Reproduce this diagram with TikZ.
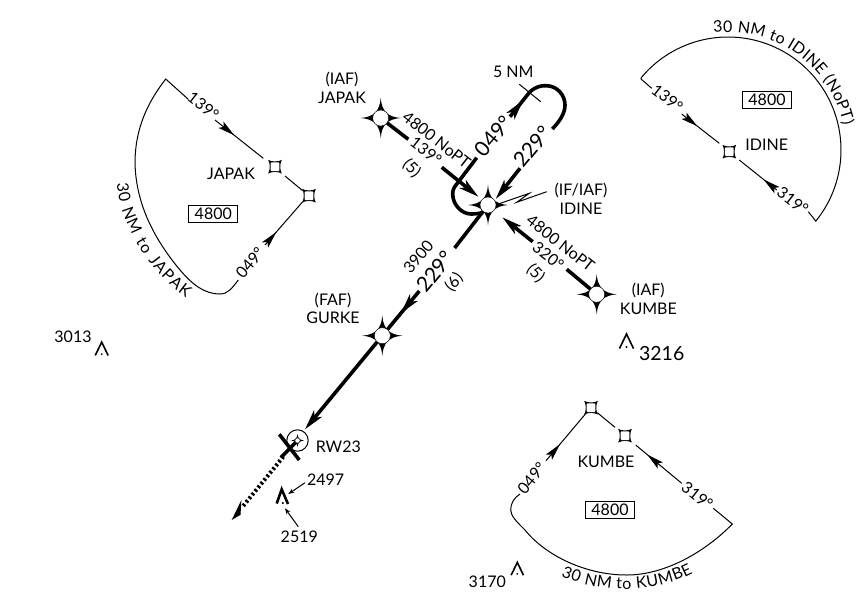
\documentclass[tikz,border=0pt]{standalone}
\usepackage{fontspec}
\setmainfont{Lato}
\usetikzlibrary{arrows.meta,calc,decorations.markings,decorations.text}
\newcommand\fsm{\fontsize{16}{18.5}\selectfont}
\newcommand\flg{\fontsize{21}{22}\selectfont}
\newcommand\fmd{\fontsize{19.5}{22}\selectfont}
\tikzset{
  thin line/.style={line width=1pt},
  thick leg/.style={line width=3.6pt},
  lab/.style={font=\fsm,inner sep=0pt,align=center},
  biglab/.style={font=\flg,inner sep=0pt},
  alt box/.style={font=\fsm,draw,line width=0.8pt,minimum width=49pt,minimum height=16.7pt,inner sep=0pt},
  thinhead/.style={postaction={decorate,decoration={markings,mark=at position #1 with {\arrow{Stealth[length=17pt,width=8pt,inset=3.5pt]}}}}},
  thickhead/.style={postaction={decorate,decoration={markings,mark=at position #1 with {\arrow{Stealth[length=20pt,width=10pt,inset=5pt]}}}}},
  bigfix/.pic={
    \fill (20,0) .. controls (7,1) and (1,7) .. (0,20) .. controls (-1,7) and (-7,1) .. (-20,0)
      .. controls (-7,-1) and (-1,-7) .. (0,-20) .. controls (1,-7) and (7,-1) .. (20,0) -- cycle;
    \fill[white] (0,0) circle (8);
    \draw[line width=0.4pt] (0,0) circle (8);
  },
  smallfix/.pic={
    \fill (-6.8,-6.8) .. controls (-3,-4.7) and (3,-4.7) .. (6.8,-6.8)
      .. controls (4.7,-3) and (4.7,3) .. (6.8,6.8)
      .. controls (3,4.7) and (-3,4.7) .. (-6.8,6.8)
      .. controls (-4.7,3) and (-4.7,-3) .. (-6.8,-6.8) -- cycle;
    \fill[white,rounded corners=1pt] (-4.4,-4.4) rectangle (4.4,4.4);
  },
  obstacle/.pic={
    \draw[line width=1.6pt,line join=miter] (-7,7) -- (0,-7.5) -- (7,7);
    \fill (0,5.5) circle (1.1);
  }
}
\begin{document}
\begin{tikzpicture}[x=1pt,y=-1pt,line cap=butt]
\useasboundingbox (0,0) rectangle (858,603);
% fixes
\coordinate (idine) at (488,205);
\coordinate (japak) at (380.7,118);
\coordinate (kumbe) at (596.7,294.3);
\coordinate (gurke) at (382.3,335.7);
\coordinate (rw) at (297.5,440.5);
% segment ends
\coordinate (j1) at (408.3,139.3);
\coordinate (j2) at (441.7,167.3);
\coordinate (j3) at (478.5,196.8);
\coordinate (o1) at (457.3,183.3);
\coordinate (o2) at (476.7,157.7);
\coordinate (o3) at (510,116.7);
\coordinate (o4) at (530,91.7);
\coordinate (o5) at (552.3,129);
\coordinate (o6) at (520,168.3);
\coordinate (o7) at (495.7,199);
\coordinate (g1) at (454.6,248);
\coordinate (g2) at (419.3,291);
\coordinate (g3) at (305,429.3);
\coordinate (k1) at (566.7,269.3);
\coordinate (k2) at (532.7,241.7);
\coordinate (k3) at (502.3,217.3);

% procedure track
\draw[thick leg] (japak) -- (j1);
\draw[thick leg,-{Stealth[length=20pt,width=10pt,inset=5pt]}] (j2) -- (j3);
\draw[thick leg] (o2) -- (o1) .. controls (454,187) and (452.7,190) .. (452.7,194)
   .. controls (452.7,205) and (462,214) .. (471,214) .. controls (475,214) and (479,213.5) .. (483,212.5);
\draw[thick leg,thickhead=0.66] (o3) -- (o4);
\draw[thick leg] (o4) .. controls (536,86.5) and (541,85.5) .. (546.7,85.7)
   .. controls (557,86) and (565,95) .. (565,105) .. controls (565,114) and (559,122) .. (o5);
\draw[thick leg,-{Stealth[length=20pt,width=10pt,inset=5pt]}] (o6) -- (o7);
\draw[thick leg] (idine) -- (g1);
\draw[thick leg,thickhead=0.5] (g2) -- (gurke);
\draw[thick leg,-{Stealth[length=20pt,width=10pt,inset=5pt]}] (gurke) -- (g3);
\draw[thick leg] (kumbe) -- (k1);
\draw[thick leg,-{Stealth[length=20pt,width=10pt,inset=5pt]}] (k2) -- (k3);
% 5 NM tick
\coordinate (t1) at (519.3,84.3);
\coordinate (t2) at (540.7,101.7);
\draw[thin line] (t1) -- (t2);
% lightning bolt
\coordinate (b1) at (546.7,191.7);
\coordinate (b2) at (516.7,202.3);
\coordinate (b3) at (529.3,193.3);
\coordinate (b4) at (498.3,204);
\draw[thin line,line join=miter] (b1) -- (b2) -- (b3) -- (b4);

% runway
\coordinate (r0) at (281,457.5);
\coordinate (r1) at (279.3,434.3);
\coordinate (r2) at (299.3,460);
\coordinate (r3) at (283.3,456.7);
\coordinate (r4) at (231.7,520);
\draw[thin line] (rw) circle (10.7);
\draw[thick leg] (rw) -- (r0);
\pic at (rw) [scale=0.33] {bigfix};
\draw[thick leg] (r1) -- (r2);
\draw[line width=4pt,dash pattern=on 2.3pt off 2.4pt] (r3) -- ($(r3)!0.8!(r4)$);
\coordinate (r5) at ($(r3)!0.75!(r4)$);
\fill (r5) ++(-3.2,-4.2) -- (r4) -- ++(8.8,-5.2) -- cycle;

% big fix symbols
\pic at (idine) {bigfix};
\pic at (japak) {bigfix};
\pic at (kumbe) {bigfix};
\pic at (gurke) {bigfix};

% labels of track
\node[lab] (n1) at (342,88) {(IAF)\\JAPAK};
\node[lab] (n2) at (581,199) {(IF/IAF)\\IDINE};
\node[lab] (n3) at (648.3,299) {(IAF)\\KUMBE};
\node[lab] (n4) at (333,308.5) {(FAF)\\GURKE};
\node[lab] (n5) at (513.3,71.7) {5 NM};
\node[lab] (n6) at (338.3,446.7) {RW23};
\node[lab,rotate=-38] (n7) at (436.7,140) {4800 NoPT};
\node[lab,rotate=-38] (n8) at (426,151) {139°};
\node[lab,rotate=-45] (n9) at (411.7,168.3) {(5)};
\node[biglab,rotate=50] (n10) at (493.3,136) {049°};
\node[biglab,rotate=50] (n11) at (532.7,146.7) {229°};
\node[lab,rotate=-38] (n12) at (560.7,243.3) {4800 NoPT};
\node[lab,rotate=-38] (n13) at (548.3,256) {320°};
\node[lab,rotate=-45] (n14) at (535.7,273.3) {(5)};
\node[lab,rotate=50] (n15) at (418.3,256.7) {3900};
\node[biglab,rotate=50] (n16) at (435,271.7) {229°};
\node[lab,rotate=50] (n17) at (454,282.3) {(6)};

% obstacles
\pic at (101.7,349) [scale=0.92] {obstacle};
\node[lab] (o13) at (73,337) {3013};
\pic at (626.5,341.5) {obstacle};
\node[font=\fmd,inner sep=0pt] (o32) at (661.7,353.3) {3216};
\pic at (517.3,569) [scale=0.88] {obstacle};
\node[lab] (o31) at (487.3,581.7) {3170};
\coordinate (ob) at (281.7,489.3);
\draw[line width=2.6pt,line join=miter] (276.7,503.5) -- (ob) -- (288,504);
\fill (282.8,503) circle (1.2);
\node[lab] (o24) at (325.7,479.3) {2497};
\node[lab] (o25) at (299.3,536.7) {2519};
\coordinate (oa1) at (305,482.7);
\coordinate (oa2) at (288.3,494);
\coordinate (oa3) at (298.3,526.7);
\coordinate (oa4) at (285,508.3);
\draw[thin line,-{Stealth[length=6pt,width=4.5pt]}] (oa1) -- (oa2);
\draw[thin line,-{Stealth[length=6pt,width=4.5pt]}] (oa3) -- (oa4);

% JAPAK sector
\coordinate (jf1) at (275,166.7);
\coordinate (jf2) at (309,195.7);
\coordinate (jc) at (165.7,79);
\coordinate (ja) at (188.3,99.3);
\coordinate (jb) at (215,120);
\coordinate (jd) at (263.3,158.3);
\coordinate (je) at (285,176);
\coordinate (jg) at (302.7,190.7);
\coordinate (jh) at (302.7,201.7);
\coordinate (ji) at (265,245);
\coordinate (jk) at (238.3,280);
\draw[thin line,line join=miter] (ja) -- (jc) .. controls (148,102) and (135,128) .. (135,163.3)
  .. controls (136,205) and (155,240) .. (180,270) .. controls (192,284) and (204,294) .. (220,294)
  .. controls (228,294) and (232,288) .. (jk);
\draw[thin line,thinhead=0.4] (jb) -- (jd);
\draw[thin line] (je) -- (jg);
\draw[thin line,thinhead=0.3] (ji) -- (jh);
\pic at (jf1) {smallfix};
\pic at (jf2) {smallfix};
\node[lab] (jn) at (231,174) {JAPAK};
\node[alt box] (jbox) at (213.3,213.7) {4800};
\node[lab,rotate=-38] (jl1) at (203.3,106) {139°};
\node[lab,rotate=50] (jl2) at (250,262.7) {049°};
\path[decorate,decoration={text along path,text align=fit to path,
  text={|\fontsize{16}{18}\selectfont|30 NM to JAPAK}}]
  (117,183) .. controls (119,222) and (147,270) .. (186,298);

% IDINE sector
\coordinate (if) at (729.3,151.7);
\coordinate (ia) at (651.7,88.3);
\coordinate (ib) at (681.7,114);
\coordinate (ic) at (719.3,143.3);
\coordinate (id) at (739.3,160);
\coordinate (ie) at (776.7,190);
\coordinate (ig) at (808.3,211.7);
\draw[thin line,line join=miter] (ia) -- (641,79)
  -- plot[domain=-140:39,samples=40,smooth] ({728+113*cos(\x)},{150+113*sin(\x)}) -- (ig);
\draw[thin line,thinhead=0.42] (ib) -- (ic);
\draw[thin line,thinhead=0.35] (ie) -- (id);
\pic at (if) {smallfix};
\node[lab] (in) at (766.7,145) {IDINE};
\node[alt box] (ibox) at (767,99.7) {4800};
\node[lab,rotate=-38] (il1) at (667.3,98.3) {139°};
\node[lab,rotate=-38] (il2) at (792.7,200.7) {319°};
\path[decorate,decoration={text along path,text align=fit to path,
  text={|\fontsize{16}{18}\selectfont|30 NM to IDINE (NoPT)}}]
  (713.6,32.9) .. controls (742.9,29.3) and (772.5,36.8) .. (796.5,53.9)
  .. controls (820.5,71) and (837.3,96.6) .. (843.4,125.5);

% KUMBE sector
\coordinate (kf1) at (591,407.7);
\coordinate (kf2) at (625,435.7);
\coordinate (ka) at (597.3,412.7);
\coordinate (kb) at (615,427.3);
\coordinate (kc) at (635.7,445);
\coordinate (kd) at (681.7,483.3);
\coordinate (ke) at (713.3,508.3);
\coordinate (kg) at (732.3,524);
\coordinate (kh) at (520,494);
\coordinate (ki) at (546,460.7);
\coordinate (kj) at (586,413.3);
\draw[thin line] (ka) -- (kb);
\draw[thin line,thinhead=0.75] (kd) -- (kc);
\draw[thin line,line join=miter] (ke) -- (kg) .. controls (705,552) and (665,575) .. (626.7,575)
  .. controls (585,575) and (545,555) .. (525,530) .. controls (517,522) and (510.7,516) .. (510.7,510)
  .. controls (510.7,503) and (514,498) .. (kh);
\draw[thin line,thinhead=0.35] (ki) -- (kj);
\pic at (kf1) {smallfix};
\pic at (kf2) {smallfix};
\node[lab] (kn) at (606,462) {KUMBE};
\node[alt box] (kbox) at (610,510) {4800};
\node[lab,rotate=50] (kl1) at (531.7,478.3) {049°};
\node[lab,rotate=-38] (kl2) at (697.3,495.7) {319°};
\path[decorate,decoration={text along path,text align=fit to path,
  text={|\fontsize{16}{18}\selectfont|30 NM to KUMBE}}]
  (561,576) .. controls (600,593) and (650,595) .. (693,573);
\end{tikzpicture}
\end{document}
